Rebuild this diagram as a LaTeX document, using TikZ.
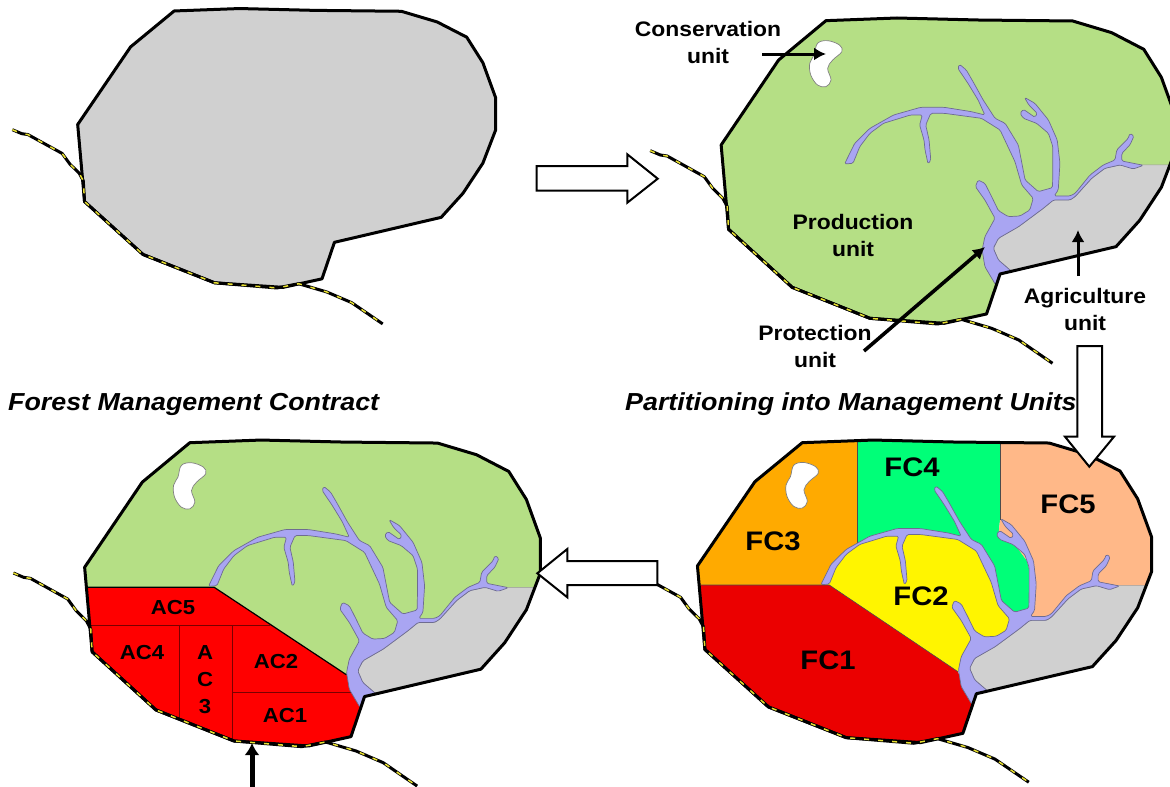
\documentclass[tikz,border=0pt]{standalone}
\usepackage{fontspec}
\setmainfont[FakeStretch=1.09]{Liberation Sans}
\usetikzlibrary{arrows.meta}
\definecolor{mgreen}{HTML}{B5DF85}
\definecolor{mgray}{HTML}{D0D0D0}
\definecolor{mriver}{HTML}{A9A5F2}
\definecolor{medge}{HTML}{6E6C90}
\definecolor{morange}{HTML}{FFAA00}
\definecolor{mfour}{HTML}{00FF78}
\definecolor{myellow}{HTML}{FFF500}
\definecolor{mpeach}{HTML}{FFB888}
\definecolor{mredd}{HTML}{EB0000}
\definecolor{mredc}{HTML}{FF0000}
\definecolor{mdarkred}{HTML}{7A0000}
\definecolor{mroad}{HTML}{E8E030}
\def\outlinepath{(550,62)--(760,54)--(1000,60)--(1280,63)--(1395,98)--(1490,148)--(1542,232)--(1583,347)--(1583,453)--(1542,562)--(1478,661)--(1408,740)--(1065,822)--(1025,942)--(900,970)--(680,955)--(450,862)--(262,688)--(240,435)--(410,180)--cycle}
\def\roadpath{(30,452)--(60,465)--(80,468)--(190,530)--(215,565)--(245,595)--(258,620)--(262,688)--(450,862)--(680,955)--(880,972)--(950,958)--(1040,985)--(1120,1020)--(1220,1090)}
\def\riverpath{(1052,855)--(1020,800)--(1012,750)--(1020,710)--(1050,655)--(1020,600)--(992,560)--(1000,540)--(1020,550)--(1040,590)--(1060,632)--(1089,650)--(1124,648)--(1153,630)--(1163,595)--(1129,555)--(1109,485)--(1065,390)--(1010,355)--(900,340)--(860,340)--(845,375)--(855,420)--(860,480)--(852,492)--(843,450)--(840,420)--(827,375)--(835,345)--(800,345)--(720,370)--(680,400)--(650,440)--(630,490)--(605,492)--(635,430)--(680,385)--(750,345)--(830,322)--(900,322)--(980,335)--(1020,345)--(1000,300)--(970,250)--(940,205)--(945,193)--(965,210)--(985,245)--(1015,300)--(1050,355)--(1080,370)--(1119,435)--(1139,540)--(1178,575)--(1220,563)--(1221,510)--(1221,440)--(1208,400)--(1173,370)--(1134,355)--(1124,340)--(1134,328)--(1168,352)--(1175,340)--(1150,315)--(1137,292)--(1168,310)--(1208,360)--(1234,420)--(1242,490)--(1237,570)--(1225,588)--(1272,588)--(1287,580)--(1331,525)--(1370,495)--(1405,480)--(1410,450)--(1444,415)--(1449,400)--(1461,408)--(1449,435)--(1425,460)--(1425,483)--(1489,496)--(1459,507)--(1420,495)--(1375,505)--(1336,535)--(1287,590)--(1272,600)--(1223,600)--(1193,625)--(1120,680)--(1060,715)--(1045,745)--(1060,780)--(1100,815)--(1065,822)--cycle}
\def\farmpath{(1420,495)--(1375,505)--(1336,535)--(1287,590)--(1272,600)--(1223,600)--(1193,625)--(1120,680)--(1060,715)--(1045,745)--(1060,780)--(1100,815)--(1100,850)--(1410,770)--(1620,650)--(1640,495)--cycle}
\def\lakepath{plot[smooth cycle,tension=.6] coordinates {(525,130)(555,122)(590,135)(597,155)(570,180)(555,205)(565,240)(550,260)(525,255)(505,225)(502,190)(515,165)}}
\tikzset{
  mapA/.style={shift={(3,-7.9)},xscale=.3112,yscale=.3044},
  mapB/.style={shift={(640,0)},xscale=.3381,yscale=.3333},
  mapC/.style={shift={(3.2,422)},xscale=.3393,yscale=.334},
  mapD/.style={shift={(616.3,422.2)},xscale=.3381,yscale=.3303},
  border/.style={draw=black,line width=3pt,line join=round},
  roadback/.style={draw=black,line width=3pt,line join=round},
  roadtop/.style={draw=mroad,line width=1.5pt,dash pattern=on 5pt off 9pt},
  riverfill/.style={fill=mriver,draw=medge,line width=.7pt,rounded corners=1.5pt,line join=round},
  lakefill/.style={fill=white,draw=gray,line width=.7pt},
  farmfill/.style={fill=mgray,draw=gray!80,line width=.5pt},
  seam/.style={draw=black!70,line width=.6pt},
  redseam/.style={draw=mdarkred,line width=1pt},
  blockarrow/.style={draw=black,fill=white,line width=2pt,line join=miter},
  pointer/.style={draw=black,line width=3pt,-{Latex[length=12pt,width=13pt]}},
  lab/.style={font=\fontsize{21}{27}\selectfont\bfseries,text=black,inner sep=0pt},
  titletext/.style={font=\fontsize{24.6}{28}\selectfont\bfseries\itshape,text=black,inner sep=0pt,anchor=west},
  fc/.style={font=\fontsize{26.8}{30}\selectfont\bfseries,text=black,inner sep=0pt},
  ac/.style={font=\fontsize{20.3}{27}\selectfont\bfseries,text=black,inner sep=0pt},
}
\begin{document}
\begin{tikzpicture}[x=1pt,y=-1pt]
\useasboundingbox (0,0) rectangle (1170,787);
\clip (0,0) rectangle (1170,787);
% map A
\begin{scope}[mapA]
  \fill[mgray] \outlinepath;
  \path[border] \outlinepath;
  \path[roadback] \roadpath;
  \path[roadtop] \roadpath;
\end{scope}
% map B
\begin{scope}[mapB]
  \fill[mgreen] \outlinepath;
  \begin{scope}
    \clip \outlinepath;
    \path[farmfill] \farmpath;
  \end{scope}
  \path[lakefill] \lakepath;
  \path[riverfill] \riverpath;
  \path[border] \outlinepath;
  \path[roadback] \roadpath;
  \path[roadtop] \roadpath;
\end{scope}
% map C
\begin{scope}[mapC]
  \fill[mgreen] \outlinepath;
  \begin{scope}
    \clip \outlinepath;
    \fill[mredc] (100,495)--(622,495)--(1012,757)--(1052,855)--(1100,1050)--(100,1050)--cycle;
    \draw[redseam] (100,608)--(785,608);
    \draw[redseam] (520,608)--(520,887);
    \draw[redseam] (675,608)--(675,957);
    \draw[redseam] (675,810)--(1027,810);
    \draw[black,line width=1.2pt] (100,495)--(622,495)--(1012,757);
    \path[farmfill] \farmpath;
  \end{scope}
  \path[lakefill] \lakepath;
  \path[riverfill] \riverpath;
  \path[border] \outlinepath;
  \path[roadback] \roadpath;
  \path[roadtop] \roadpath;
\end{scope}
% map D
\begin{scope}[mapD]
  \begin{scope}
    \clip \outlinepath;
    \fill[morange] (100,20)--(713,20)--(713,493)--(100,493)--cycle;
    \fill[mfour] (713,20)--(1135,20)--(1135,295)--(1130,345)--(1175,365)--(1215,420)--(1230,480)--(1230,580)--(1170,600)--(1125,520)--(1100,440)--(1060,385)--(1010,348)--(900,331)--(830,331)--(750,354)--(713,372)--cycle;
    \fill[mpeach] (1135,20)--(1650,20)--(1650,495)--(1420,495)--(1375,505)--(1336,535)--(1287,590)--(1230,590)--(1230,480)--(1215,420)--(1175,365)--(1130,345)--(1135,295)--cycle;
    \fill[myellow] (622,493)--(640,440)--(680,392)--(750,354)--(830,331)--(900,331)--(1010,348)--(1060,385)--(1100,440)--(1125,520)--(1150,570)--(1170,600)--(1150,640)--(1090,665)--(1040,680)--(1015,745)--(1010,755)--cycle;
    \fill[mredd] (100,493)--(630,493)--(1010,755)--(1052,855)--(1100,1050)--(100,1050)--cycle;
    \draw[seam] (713,20)--(713,372);
    \draw[seam] (1135,20)--(1135,295);
    \draw[seam] (100,493)--(630,493)--(1010,755);
    \path[farmfill] \farmpath;
  \end{scope}
  \path[lakefill] \lakepath;
  \path[riverfill] \riverpath;
  \path[border] \outlinepath;
  \path[roadback] \roadpath;
  \path[roadtop] \roadpath;
\end{scope}
% block arrows
\path[blockarrow] (536.7,166)--(627.3,166)--(627.3,154.3)--(657.7,178.7)--(627.3,202.7)--(627.3,190.7)--(536.7,190.7)--cycle;
\path[blockarrow] (1077.3,346)--(1102,346)--(1102,436.7)--(1114,436.7)--(1089.3,466.7)--(1065,436.7)--(1077.3,436.7)--cycle;
\path[blockarrow] (657.3,561)--(657.3,585)--(567.3,585)--(567.3,597.3)--(537.3,573.3)--(567.3,549)--(567.3,561)--cycle;
% labels
\node[lab,align=center] (conservation) at (708,42) {Conservation\\unit};
\node[lab,align=center] (production) at (853,235) {Production\\unit};
\node[lab,align=center] (protection) at (815,346) {Protection\\unit};
\node[lab,align=center] (agriculture) at (1085,309) {Agriculture\\unit};
\node[titletext] (contract) at (8,404) {Forest Management Contract};
\node[titletext] (partition) at (625,404) {Partitioning into Management Units};
\node[fc] (fc1) at (828,660) {FC1};
\node[fc] (fc2) at (921,596) {FC2};
\node[fc] (fc3) at (773,541) {FC3};
\node[fc] (fc4) at (912,467) {FC4};
\node[fc] (fc5) at (1068,504) {FC5};
\node[ac] (ac5) at (173,608) {AC5};
\node[ac] (ac4) at (142,653) {AC4};
\node[ac,align=center] (ac3) at (205,680) {A\\C\\3};
\node[ac] (ac2) at (276,662) {AC2};
\node[ac] (ac1) at (285,716) {AC1};
% pointers
\coordinate (p1a) at (762,54); \coordinate (p1b) at (826,54);
\coordinate (p2a) at (864,351); \coordinate (p2b) at (985,247);
\coordinate (p3a) at (1078,276); \coordinate (p3b) at (1078,230);
\coordinate (p4a) at (252,787); \coordinate (p4b) at (252,743);
\draw[pointer] (p1a) -- (p1b);
\draw[pointer,line width=3.6pt] (p2a) -- (p2b);
\draw[pointer] (p3a) -- (p3b);
\draw[pointer,line width=5pt,-{Latex[length=12pt,width=15pt]}] (p4a) -- (p4b);
\end{tikzpicture}
\end{document}
